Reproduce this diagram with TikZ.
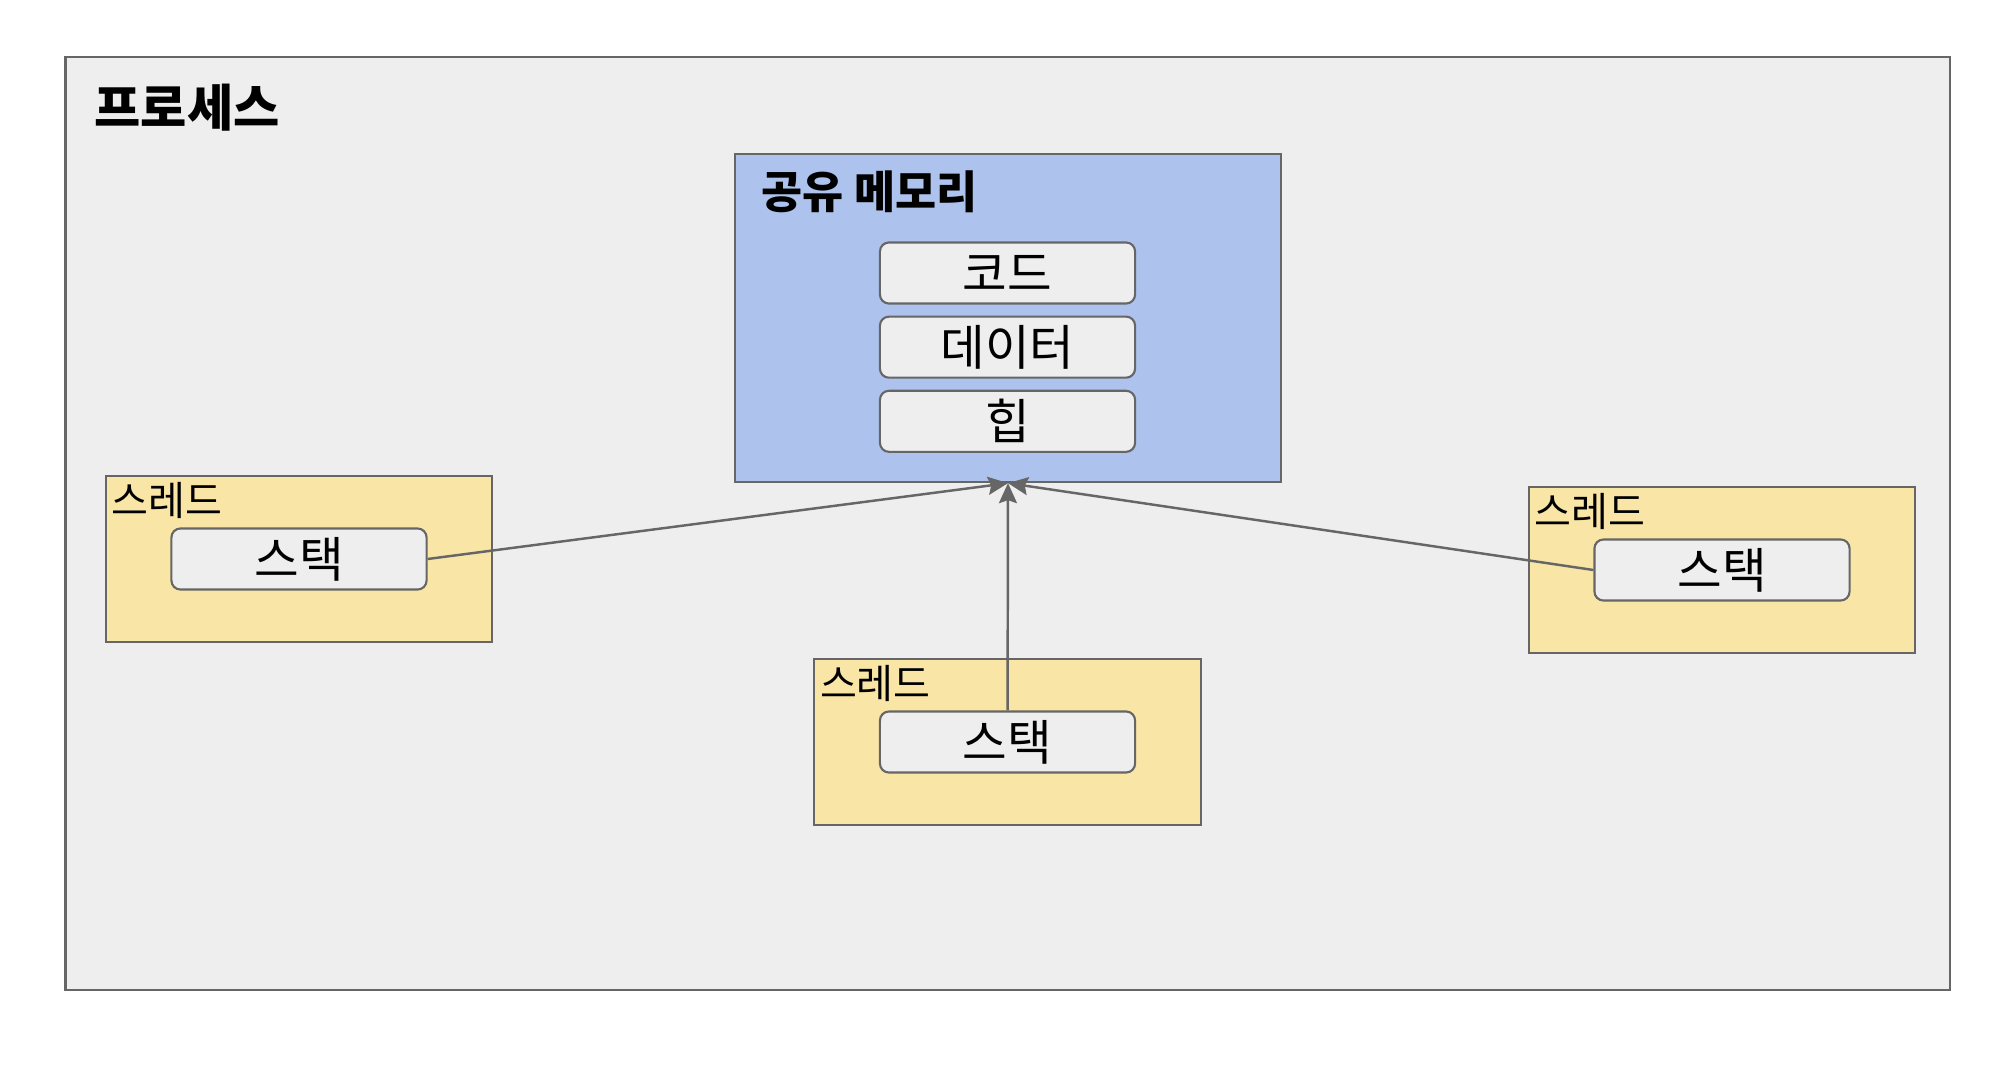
\documentclass[tikz,border=0pt]{standalone}
\usepackage{fontspec}
\setmainfont{Noto Sans CJK KR}
\usetikzlibrary{positioning,arrows.meta}
\usepackage{xcolor}
\definecolor{ProcGray}{RGB}{238,238,238}
\definecolor{EdgeGray}{RGB}{102,102,102}
\definecolor{MemBlue}{RGB}{174,194,238}
\definecolor{ThreadYellow}{RGB}{249,229,165}

\begin{document}
\begin{tikzpicture}[x=0.01cm,y=-0.01cm,
node distance=0.11cm,
frame/.style={rectangle,draw=EdgeGray,line width=0.6pt,inner sep=0pt},
part/.style={rectangle,rounded corners=0.09cm,draw=EdgeGray,fill=ProcGray,line width=0.6pt,
minimum width=2.55cm,minimum height=0.61cm,inner sep=0pt,font=\fontsize{13.8}{16}\selectfont},
thread/.style={frame,fill=ThreadYellow,minimum width=3.86cm,minimum height=1.66cm},
caption/.style={inner sep=0pt,anchor=west},
arrow/.style={-{Stealth[length=0.2cm,width=0.18cm,inset=0.03cm]},line width=0.7pt,draw=EdgeGray}
]
\useasboundingbox (0,0) rectangle (2000,1070);
\fill[white] (0,0) rectangle (2000,1070);
% process
\node[frame,fill=ProcGray,minimum width=18.83cm,minimum height=9.33cm] (proc) at (1007.5,523.5) {};
\node[caption,font=\bfseries\fontsize{14.3}{17}\selectfont] (proctitle) at (94,108) {프로세스};
% shared memory
\node[frame,fill=MemBlue,minimum width=5.46cm,minimum height=3.28cm] (mem) at (1008,318) {};
\node[caption,font=\bfseries\fontsize{12.7}{15}\selectfont] (memtitle) at (761,192) {공유 메모리};
\node[part] (code) at (1007.5,273) {코드};
\node[part,below=of code] (data) {데이터};
\node[part,below=of data] (heap) {힙};
% threads
\node[thread] (tleft) at (299,559) {};
\node[part] (sleft) at (tleft) {스택};
\node[caption,font=\fontsize{11.4}{13}\selectfont] at ([xshift=0.06cm,yshift=-0.26cm]tleft.north west) {스레드};
\node[thread] (tmid) at (1007.5,742) {};
\node[part] (smid) at (tmid) {스택};
\node[caption,font=\fontsize{11.4}{13}\selectfont] at ([xshift=0.06cm,yshift=-0.26cm]tmid.north west) {스레드};
\node[thread] (tright) at (1722,570) {};
\node[part] (sright) at (tright) {스택};
\node[caption,font=\fontsize{11.4}{13}\selectfont] at ([xshift=0.06cm,yshift=-0.26cm]tright.north west) {스레드};
\draw[arrow] (sleft.east) -- (mem.south);
\draw[arrow] (smid) -- (mem.south);
\draw[arrow] (sright.west) -- (mem.south);
\end{tikzpicture}
\end{document}
